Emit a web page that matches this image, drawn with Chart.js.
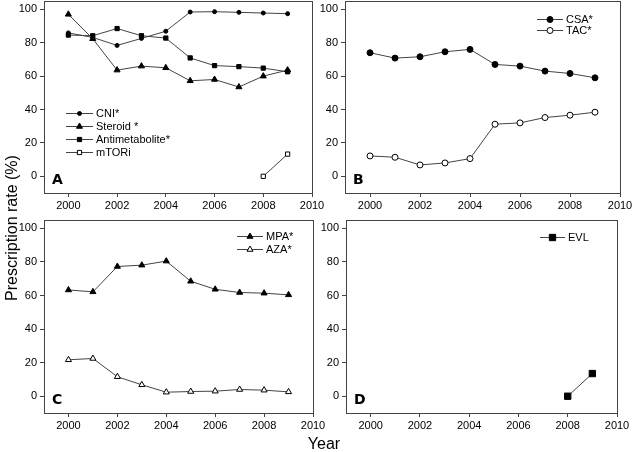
<!DOCTYPE html>
<html>
<head>
<meta charset="utf-8">
<script src="https://cdn.jsdelivr.net/npm/chart.js@4"></script>
<style>
  html, body { margin: 0; padding: 0; background: #fff; }
  #page { position: relative; width: 632px; height: 452px; overflow: hidden; font-family: "Liberation Sans", Arial, sans-serif; color: #000; }
  canvas { position: absolute; }
  #yTitle { position: absolute; left: 12px; top: 228px; width: 240px; height: 20px; margin-left: -120px; margin-top: -10px; line-height: 20px; text-align: center; font-size: 16px; transform: rotate(-90deg); }
  #xTitle { position: absolute; left: 284px; top: 434px; width: 80px; text-align: center; font-size: 16px; line-height: 20px; }
</style>
</head>
<body>
<div id="page">
  <canvas id="panelA" width="330" height="215" style="left:0px;top:0px"></canvas>
  <canvas id="panelB" width="332" height="215" style="left:300px;top:0px"></canvas>
  <canvas id="panelC" width="330" height="220" style="left:0px;top:215px"></canvas>
  <canvas id="panelD" width="332" height="220" style="left:300px;top:215px"></canvas>
  <div id="yTitle">Prescription rate (%)</div>
  <div id="xTitle">Year</div>
</div>
<script>
const years = [2000, 2001, 2002, 2003, 2004, 2005, 2006, 2007, 2008, 2009];
const xTicks = [2000, 2002, 2004, 2006, 2008, 2010];
const yTicks = [0, 20, 40, 60, 80, 100];

// panel A
const cniRate = [85.9, 83.2, 78.4, 82.6, 86.9, 98.4, 98.6, 98.2, 97.8, 97.4];
const steroidRate = [97, 82.4, 63.6, 66, 65, 57.2, 58, 53.5, 60, 63.6];
const antimetaboliteRate = [84.6, 84.2, 88.5, 84.2, 82.8, 70.9, 66.3, 65.7, 64.8, 62.6];
const mtoriRate = [null, null, null, null, null, null, null, null, 0, 13.3];

// panel B
const csaRate = [74, 70.8, 71.6, 74.6, 76, 67, 66, 63, 61.6, 59];
const tacRate = [12.2, 11.4, 6.8, 8, 10.6, 31.2, 32, 35.2, 36.6, 38.4];

// panel C
const mpaRate = [63.3, 62.2, 77.3, 78.1, 80.5, 68.5, 63.7, 61.8, 61.4, 60.4];
const azaRate = [21.7, 22.5, 11.6, 6.8, 2.4, 2.8, 3, 4, 3.6, 2.6];

// panel D
const evlRate = [null, null, null, null, null, null, null, null, 0, 13.5];

const FONT = "'Liberation Sans', Arial, sans-serif";
const LINE_COLOR = "#444";

function toPoints(values) {
  return years.map((year, i) => ({ x: year, y: values[i] })).filter((p) => p.y !== null);
}

function series(label, values, pointStyle, radius, filled) {
  return {
    label,
    data: toPoints(values),
    borderColor: LINE_COLOR,
    borderWidth: 1,
    pointStyle,
    pointRadius: radius,
    pointBackgroundColor: filled ? "#000" : "#fff",
    pointBorderColor: "#000",
    pointBorderWidth: 1,
    tension: 0
  };
}

// frame, panel letter and the in-plot legend
const panelPlugin = {
  id: "panelDecor",
  afterDraw(chart, args, opts) {
    const { ctx, chartArea } = chart;
    ctx.save();
    ctx.strokeStyle = "#444";
    ctx.lineWidth = 1;
    ctx.strokeRect(Math.round(chartArea.left) + 0.5, Math.round(chartArea.top) + 0.5,
      Math.round(chartArea.right - chartArea.left), Math.round(chartArea.bottom - chartArea.top));

    ctx.fillStyle = "#000";
    ctx.font = "bold 14px 'DejaVu Sans', sans-serif";
    ctx.textBaseline = "middle";
    ctx.textAlign = "left";
    ctx.fillText(opts.letter, chartArea.left + 8, chartArea.bottom - 13);

    ctx.font = "11px " + FONT;
    chart.data.datasets.forEach((ds, i) => {
      const x0 = chartArea.left + opts.legendX;
      const y = Math.round(chartArea.top + opts.legendY + i * opts.legendGap) + 0.5;
      ctx.strokeStyle = LINE_COLOR;
      ctx.beginPath();
      ctx.moveTo(x0, y);
      ctx.lineTo(x0 + opts.lineLen, y);
      ctx.stroke();
      ctx.fillStyle = ds.pointBackgroundColor;
      ctx.strokeStyle = ds.pointBorderColor;
      Chart.helpers.drawPoint(ctx, { pointStyle: ds.pointStyle, rotation: 0, radius: ds.pointRadius, borderWidth: 1 }, x0 + opts.lineLen / 2, y);
      ctx.fillStyle = "#000";
      ctx.fillText(ds.label, x0 + opts.lineLen + 3, y);
    });
    ctx.restore();
  }
};

function makePanel(id, datasets, padding, decor) {
  return new Chart(document.getElementById(id), {
    type: "line",
    data: { datasets },
    options: {
      responsive: false,
      animation: false,
      devicePixelRatio: 1,
      layout: { padding, autoPadding: false },
      plugins: { legend: { display: false }, tooltip: { enabled: false }, panelDecor: decor },
      scales: {
        x: {
          type: "linear",
          min: 1999,
          max: 2010,
          border: { display: false },
          grid: { drawOnChartArea: false, drawTicks: true, tickLength: 4, tickColor: "#444" },
          ticks: { color: "#000", font: { family: FONT, size: 11 }, padding: 2, maxRotation: 0, callback: (v) => String(v) },
          afterBuildTicks(scale) { scale.ticks = xTicks.map((v) => ({ value: v })); },
          afterFit(scale) { scale.height = 22; scale.paddingLeft = 0; scale.paddingRight = 0; }
        },
        y: {
          min: -10,
          max: 105,
          border: { display: false },
          grid: { drawOnChartArea: false, drawTicks: true, tickLength: 4, tickColor: "#444" },
          ticks: { color: "#000", font: { family: FONT, size: 11 }, padding: 3, callback: (v) => String(v) },
          afterBuildTicks(scale) { scale.ticks = yTicks.map((v) => ({ value: v })); },
          afterFit(scale) { scale.width = 40; scale.paddingTop = 0; scale.paddingBottom = 0; }
        }
      }
    },
    plugins: [panelPlugin]
  });
}

makePanel("panelA", [
  series("CNI*", cniRate, "circle", 2, true),
  series("Steroid *", steroidRate, "triangle", 3.5, true),
  series("Antimetabolite*", antimetaboliteRate, "rect", 3, true),
  series("mTORi", mtoriRate, "rect", 3, false)
], { left: 4, top: 1, right: 18, bottom: 0 }, { letter: "A", legendX: 22, legendY: 112, legendGap: 13, lineLen: 27 });

makePanel("panelB", [
  series("CSA*", csaRate, "circle", 3, true),
  series("TAC*", tacRate, "circle", 3, false)
], { left: 5, top: 1, right: 12, bottom: 0 }, { letter: "B", legendX: 192, legendY: 18, legendGap: 11, lineLen: 26 });

makePanel("panelC", [
  series("MPA*", mpaRate, "triangle", 3.5, true),
  series("AZA*", azaRate, "triangle", 3.5, false)
], { left: 4, top: 5, right: 17, bottom: 0 }, { letter: "C", legendX: 193, legendY: 16, legendGap: 13, lineLen: 26 });

makePanel("panelD", [
  series("EVL", evlRate, "rect", 4.5, true)
], { left: 6, top: 5, right: 15, bottom: 0 }, { letter: "D", legendX: 194, legendY: 17, legendGap: 13, lineLen: 25 });
</script>
</body>
</html>
